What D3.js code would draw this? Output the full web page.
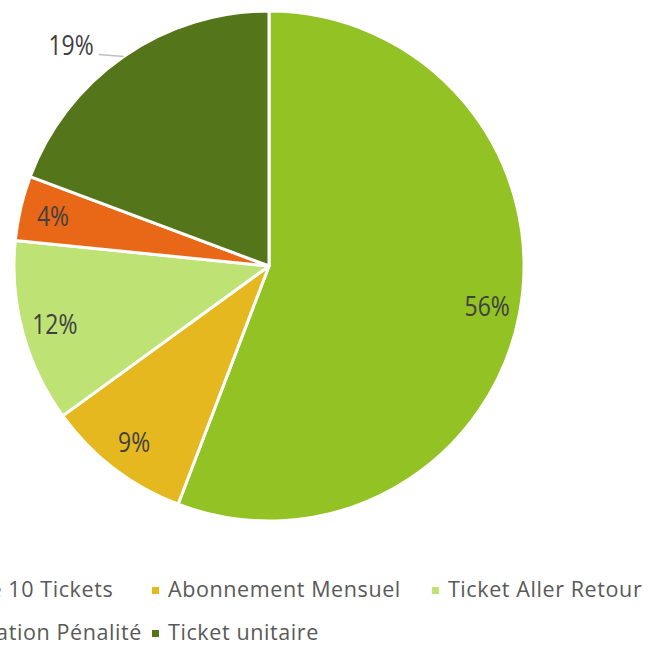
<!DOCTYPE html>
<html>
  <head>
    <meta charset="utf-8">
    <style>
      body { margin: 0; background: #fff; }
      svg { display: block; }
      .lbl { font: 28px "Open Sans", sans-serif; fill: #404040; }
      .legend text { font: 21.5px "Open Sans", sans-serif; fill: #595959; letter-spacing: 0.6px; }
      .leader { fill: none; stroke: #bfbfbf; stroke-width: 1.5px; }
    </style>
  </head>
  <body>
    <svg></svg>
    <script src="https://cdnjs.cloudflare.com/ajax/libs/d3/7.8.5/d3.min.js"></script>
    <script>
      var categories = ["Carnet de 10 Tickets", "Abonnement Mensuel", "Ticket Aller Retour",
                        "Régularisation Pénalité", "Ticket unitaire"];
      var values = [55.8, 9.2, 11.6, 4.1, 19.3];
      var colors = ["#93c225", "#e5b820", "#bfe275", "#e96818", "#55751b"];

      var width = 651, height = 648,
          cx = 269, cy = 266, radius = 255;

      var svg = d3.select("svg").attr("width", width).attr("height", height);

      var total = d3.sum(values),
          pct = function(v){ return Math.round(v / total * 100) + "%"; };

      var pie = d3.pie().sort(null).value(function(d){ return d; });
      var arcs = pie(values);
      var arc = d3.arc().innerRadius(0).outerRadius(radius);
      var lblArc = d3.arc().innerRadius(radius * 0.87).outerRadius(radius * 0.87);

      var g = svg.append("g").attr("transform", "translate(" + cx + "," + cy + ")");

      g.selectAll("path.slice")
        .data(arcs)
        .enter().append("path")
        .attr("class", "slice")
        .attr("d", arc)
        .style("fill", function(d, i){ return colors[i]; })
        .style("stroke", "#fff")
        .style("stroke-width", 3)
        .style("stroke-linejoin", "round");

      // labels, slightly condensed; last slice gets an outside label with a leader
      arcs.forEach(function(d, i){
        var mid = (d.startAngle + d.endAngle) / 2, x, y, anchor;
        if (i === 4) {
          var px = Math.sin(mid) * radius, py = -Math.cos(mid) * radius;
          g.append("path").attr("class", "leader")
            .attr("d", "M" + px + "," + py + "L" + (px - 25) + "," + (py - 2));
          x = px - 30; y = py - 1; anchor = "end";
        } else {
          var c = lblArc.centroid(d);
          x = c[0]; y = c[1] + 10; anchor = "middle";
        }
        g.append("text").attr("class", "lbl")
          .attr("transform", "translate(" + x + "," + y + ") scale(0.82,1)")
          .attr("text-anchor", anchor)
          .text(pct(values[i]));
      });

      // legend laid out as a grid of 3 columns
      var cols = 3, sw = 7, pad = 10, colGap = 10,
          rowY = [597, 640], col2Marker = 152;
      var legend = svg.append("g").attr("class", "legend");
      var items = legend.selectAll("g")
        .data(categories)
        .enter().append("g");
      items.append("rect")
        .attr("width", sw).attr("height", sw)
        .attr("y", -10)
        .style("fill", function(d, i){ return colors[i]; });
      items.append("text")
        .attr("x", sw + pad - 1)
        .text(function(d){ return d; });

      var colW = [0, 0, 0];
      items.each(function(d, i){
        var w = sw + pad - 1 + this.querySelector("text").getComputedTextLength();
        colW[i % cols] = Math.max(colW[i % cols], w);
      });
      var colX = [col2Marker - colGap - colW[0], col2Marker, col2Marker + colW[1] + 31];
      items.attr("transform", function(d, i){
        return "translate(" + colX[i % cols] + "," + rowY[Math.floor(i / cols)] + ")";
      });
    </script>
  </body>
</html>
